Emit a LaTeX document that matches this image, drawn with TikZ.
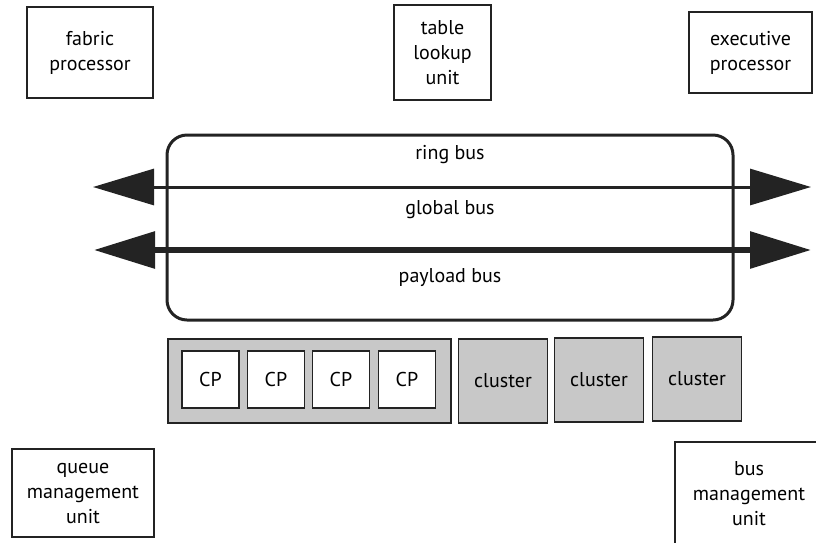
\documentclass[tikz,border=0pt]{standalone}
\usepackage{fontspec}
\setmainfont{PT Sans}
\usetikzlibrary{arrows.meta}
\definecolor{clustergray}{RGB}{200,200,200}
\definecolor{inkgray}{RGB}{35,35,35}
\tikzset{
	unit/.style={draw=inkgray, line width=1.6pt, align=center, inner sep=0pt,
		font=\fontsize{20}{25}\selectfont},
	cp/.style={unit, fill=white, line width=1.8pt, minimum width=57pt, minimum height=57pt},
	cluster/.style={unit, fill=clustergray, line width=1.8pt, minimum width=89pt, minimum height=84pt},
	buslabel/.style={font=\fontsize{20}{24}\selectfont},
	busarrow/.style={draw=inkgray, {Triangle[length=61pt,width=36pt]}-{Triangle[length=61pt,width=36pt]}}
}
\begin{document}
\begin{tikzpicture}[x=1pt,y=-1pt]
	\useasboundingbox (0,0) rectangle (816,542);
	
	% outer units
	\node[unit, minimum width=126pt, minimum height=91pt] (fabric) at (90,52.5) {fabric\\processor};
	\node[unit, minimum width=97pt, minimum height=95pt] (lookup) at (442.5,52.5) {table\\lookup\\unit};
	\node[unit, minimum width=123pt, minimum height=81pt] (exec) at (750.5,52.5) {executive\\processor};
	\node[unit, minimum width=142pt, minimum height=88pt] (queue) at (83,493) {queue\\management\\unit};
	\node[unit, minimum width=148pt, minimum height=103pt] (busmgmt) at (749,493.5) {bus\\management\\unit};
	
	% buses
	\node[draw=inkgray, line width=3pt, rounded corners=20pt, minimum width=566pt, minimum height=185pt] (buses) at (450,227.5) {};
	\node[buslabel] (ring) at (450,155) {ring bus};
	\node[buslabel] (global) at (450,210) {global bus};
	\node[buslabel] (payload) at (450,278) {payload bus};
	\coordinate (ringL) at (93,187);
	\coordinate (ringR) at (811,187);
	\coordinate (payL) at (94,250);
	\coordinate (payR) at (811,250);
	\draw[busarrow, line width=3pt] (ringL) -- (ringR);
	\draw[busarrow, line width=6pt] (payL) -- (payR);
	
	% clusters
	\node[cluster, minimum width=283pt] (group) at (309.5,381) {};
	\foreach \x [count=\i] in {210.5,276,341,407}
		\node[cp] (cp\i) at (\x,379.5) {CP};
	\node[cluster] (cl1) at (503,381) {cluster};
	\node[cluster] (cl2) at (599,380) {cluster};
	\node[cluster] (cl3) at (697,379) {cluster};
	
\end{tikzpicture}
\end{document}
